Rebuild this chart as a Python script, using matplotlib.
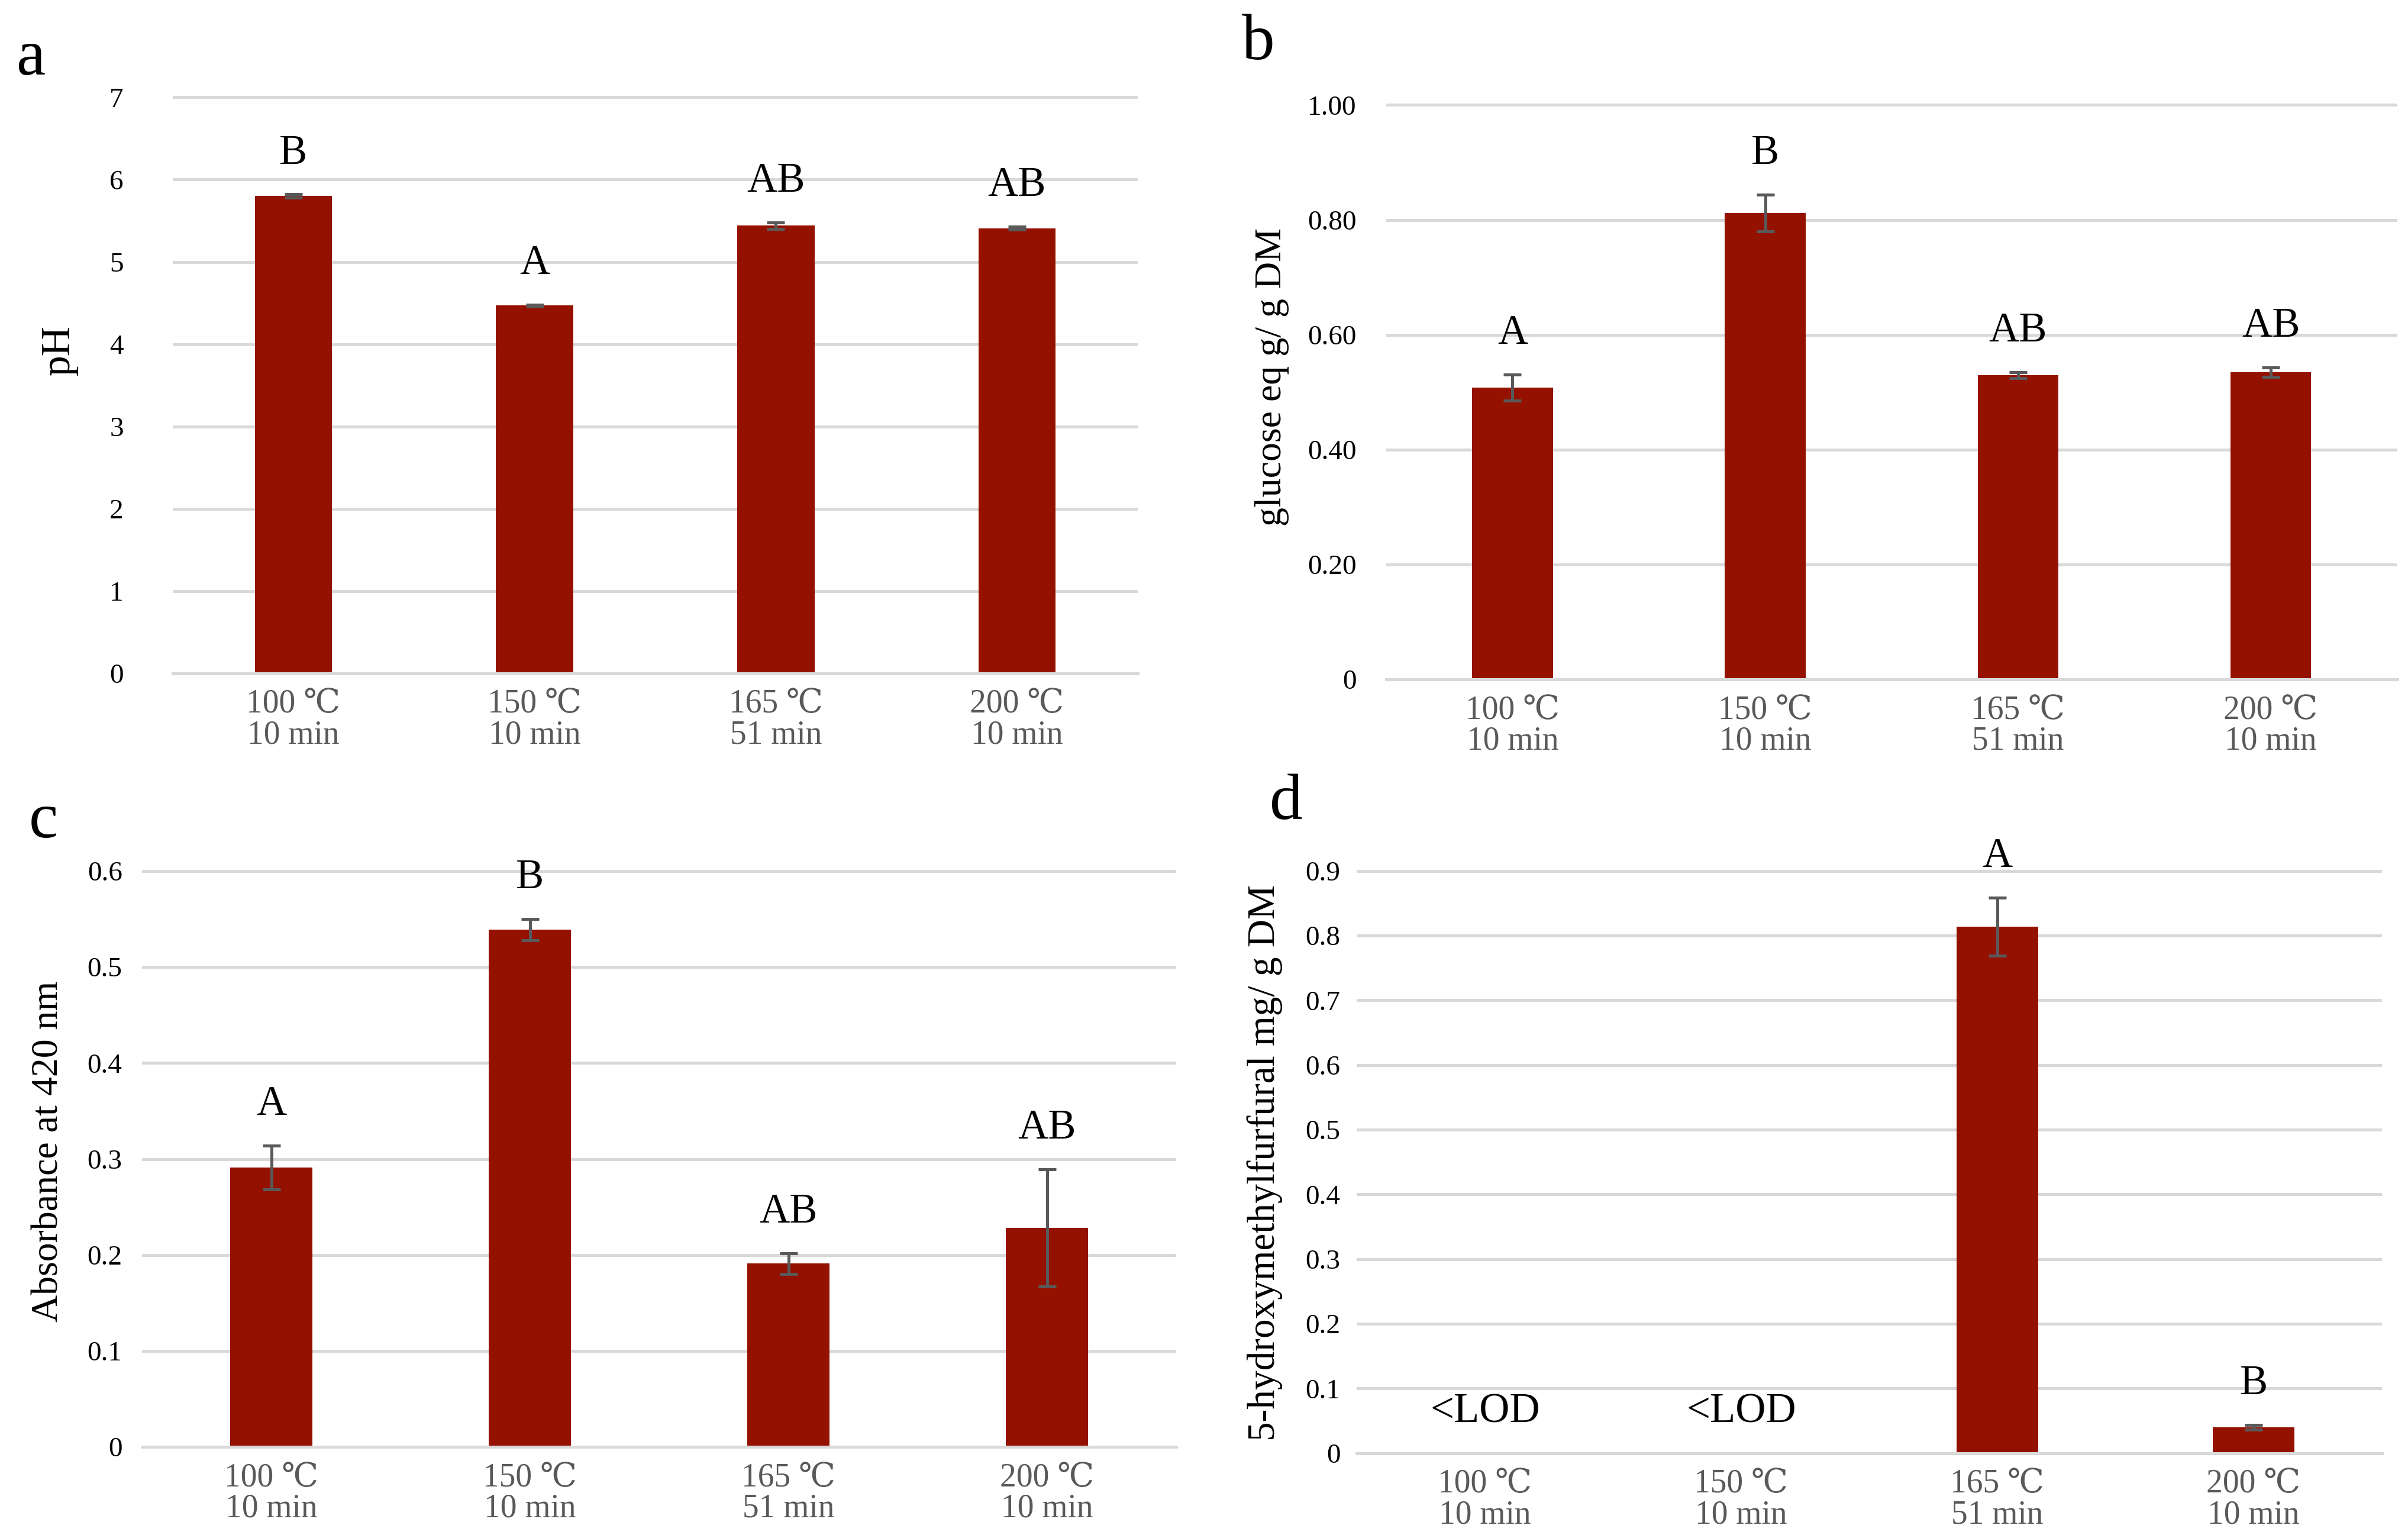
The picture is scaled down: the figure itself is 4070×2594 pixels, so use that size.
import matplotlib.pyplot as plt
from matplotlib.ticker import FixedLocator, FixedFormatter

plt.rcParams['font.family'] = ['Liberation Serif', 'DejaVu Serif']

categories = ["100 \u2103\n10 min", "150 \u2103\n10 min", "165 \u2103\n51 min", "200 \u2103\n10 min"]

ph = [5.80, 4.47, 5.44, 5.41]
ph_err = [0.02, 0.01, 0.04, 0.02]
ph_letters = ["B", "A", "AB", "AB"]

sugar = [0.508, 0.812, 0.530, 0.535]
sugar_err = [0.023, 0.032, 0.005, 0.008]
sugar_letters = ["A", "B", "AB", "AB"]

absorb = [0.291, 0.539, 0.191, 0.228]
absorb_err = [0.023, 0.011, 0.011, 0.061]
absorb_letters = ["A", "B", "AB", "AB"]

hmf = [0.0, 0.0, 0.814, 0.040]
hmf_err = [0.0, 0.0, 0.045, 0.004]
hmf_letters = ["<LOD", "<LOD", "A", "B"]

ph_ticks = [0, 1, 2, 3, 4, 5, 6, 7]
ph_ticklabels = ["0", "1", "2", "3", "4", "5", "6", "7"]
sugar_ticks = [0, 0.2, 0.4, 0.6, 0.8, 1.0]
sugar_ticklabels = ["0", "0.20", "0.40", "0.60", "0.80", "1.00"]
absorb_ticks = [0, 0.1, 0.2, 0.3, 0.4, 0.5, 0.6]
absorb_ticklabels = ["0", "0.1", "0.2", "0.3", "0.4", "0.5", "0.6"]
hmf_ticks = [0, 0.1, 0.2, 0.3, 0.4, 0.5, 0.6, 0.7, 0.8, 0.9]
hmf_ticklabels = ["0", "0.1", "0.2", "0.3", "0.4", "0.5", "0.6", "0.7", "0.8", "0.9"]

BAR = "#941100"
GRID = "#d9d9d9"
ERR = "#595959"

W, H = 1560.0, 994.0  # layout measured on a 1560 px wide view

fig = plt.figure(figsize=(40.7, 25.94), dpi=100)


def panel(x0, x1, ybot, ytop, ymax, values, errs, letters, ticks, ticklabels,
          ylabel, ylabel_x, ylabel_y, ylabel_size, ytick_pad, letter, letter_xy):
    pad = 0.006
    h = (ybot - ytop) / H
    ax = fig.add_axes([x0 / W, 1 - ybot / H, (x1 - x0) / W, h * (1 + pad)])
    ax.set_xlim(-0.5, 3.5)
    ax.set_ylim(0, ymax * (1 + pad))
    x = range(len(categories))
    ax.bar(x, values, width=0.32, color=BAR, zorder=2)
    idx = [i for i in x if errs[i] > 0]
    ax.errorbar(idx, [values[i] for i in idx], yerr=[errs[i] for i in idx],
                fmt="none", ecolor=ERR, elinewidth=3.6, capsize=11, capthick=3.6, zorder=3)
    ax.axhline(0, color=GRID, lw=3.6, zorder=4, clip_on=False)
    for i in x:
        ax.annotate(letters[i], (i, values[i] + errs[i]), xytext=(0, 50),
                    textcoords="offset points", ha="center", va="center", fontsize=51)
    ax.yaxis.set_major_locator(FixedLocator(ticks))
    ax.yaxis.set_major_formatter(FixedFormatter(ticklabels))
    ax.set_xticks(list(x))
    ax.set_xticklabels(categories, color=ERR, fontsize=40, linespacing=1.0)
    ax.grid(axis="y", color=GRID, lw=3.6, zorder=0)
    ax.set_axisbelow(True)
    for s in ax.spines.values():
        s.set_visible(False)
    ax.tick_params(axis="y", length=0, labelsize=34, pad=ytick_pad)
    ax.tick_params(axis="x", length=0, pad=19)
    ax.set_ylabel(ylabel, fontsize=ylabel_size)
    ax.yaxis.label.set_va("center")
    ax.yaxis.set_label_coords(ylabel_x, ylabel_y)
    fig.text(letter_xy[0] / W, 1 - letter_xy[1] / H, letter, fontsize=80,
             ha="center", va="center")
    return ax


panel(112, 737, 436, 63, 7, ph, ph_err, ph_letters, ph_ticks, ph_ticklabels,
      "pH", -0.118, 0.558, 50, 60, "a", (20, 38))
panel(898, 1553, 440, 68, 1.0, sugar, sugar_err, sugar_letters, sugar_ticks, sugar_ticklabels,
      "glucose eq g/ g DM", -0.113, 0.524, 46, 36, "b", (815, 28))
panel(92, 762, 937, 564, 0.6, absorb, absorb_err, absorb_letters, absorb_ticks, absorb_ticklabels,
      "Absorbance at 420 nm", -0.09, 0.51, 46, 24, "c", (28, 532))
panel(879, 1543, 941, 564, 0.9, hmf, hmf_err, hmf_letters, hmf_ticks, hmf_ticklabels,
      "5-hydroxymethylfurfural mg/ g DM", -0.09, 0.496, 47, 20, "d", (833, 520))

plt.savefig("out.png", dpi=100)
